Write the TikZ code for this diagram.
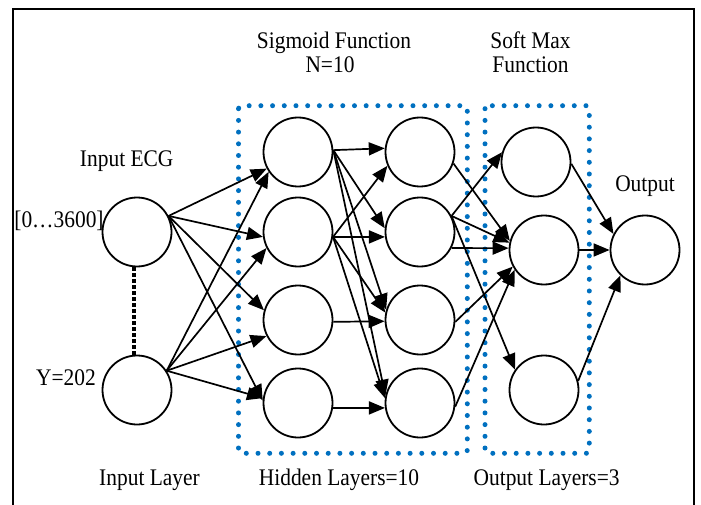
\documentclass[tikz,border=0pt]{standalone}
\usepackage{fontspec}
\setmainfont{Liberation Serif}[FakeStretch=0.9]
\usetikzlibrary{arrows.meta}
\definecolor{dotblue}{RGB}{0,112,192}

\begin{document}
\begin{tikzpicture}[x=1pt,y=-1pt,
  neuron/.style={draw,circle,line width=1.8pt,minimum size=69pt,inner sep=0pt},
  arr/.style={line width=1.7pt,-{Triangle[length=16pt,width=13pt]}},
  lbl/.style={anchor=base,inner sep=0pt,font=\fontsize{23.8}{26}\selectfont},
  layerbox/.style={dotblue,line width=5pt,line cap=round,dash pattern=on 0pt off 11.7pt,rounded corners=3pt}]
\useasboundingbox (0,0) rectangle (701,505);
\draw[line width=2pt] (12.7,505) -- (12.7,9) -- (694,9) -- (694,505);
\draw[layerbox] (238.5,105.7) rectangle (467.3,453.3);
\draw[layerbox] (485,105.7) rectangle (589.3,453.3);
\node[neuron] (in1) at (137,232) {};
\node[neuron] (in2) at (137,390) {};
\node[neuron] (h11) at (298,152) {};
\node[neuron] (h12) at (298,232) {};
\node[neuron] (h13) at (298,320) {};
\node[neuron] (h14) at (298,403) {};
\node[neuron] (h21) at (420,152) {};
\node[neuron] (h22) at (420,232) {};
\node[neuron] (h23) at (420,320) {};
\node[neuron] (h24) at (420,403) {};
\node[neuron] (s1) at (536,162) {};
\node[neuron] (s2) at (544,250) {};
\node[neuron] (s3) at (544,390) {};
\node[neuron] (out) at (645,250) {};
\draw[line width=3.2pt,dash pattern=on 3.3pt off 2.7pt] (in1.265) -- (in2.95);
\draw[arr] (in1.27) -- (h11.208);
\draw[arr] (in1.27) -- (h12.188);
\draw[arr] (in1.27) -- (h13.164);
\draw[arr] (in1.27) -- (h14.176);
\draw[arr] (in2.33) -- (h11.214);
\draw[arr] (in2.33) -- (h12.207);
\draw[arr] (in2.33) -- (h13.207);
\draw[arr] (in2.33) -- (h14.172);
\draw[arr] (h11.3) -- (h21.174);
\draw[arr] (h11.3) -- (h22.174);
\draw[arr] (h11.3) -- (h23.163);
\draw[arr] (h11.3) -- (h24.168);
\draw[arr] (h12.-8) -- (h21.203);
\draw[arr] (h12.-8) -- (h22.188);
\draw[arr] (h12.-8) -- (h23.168);
\draw[arr] (h12.-8) -- (h24.172);
\draw[arr] (h13.-3) -- (h23.182);
\draw[arr] (h14.-8) -- (h24.188);
\draw[arr] (h21.-19) -- (s2.165);
\draw[arr] (h22.27) -- (s1.164);
\draw[arr] (h22.27) -- (s2.168);
\draw[arr] (h22.27) -- (s3.145);
\draw[arr] (h22.-27) -- (s2.177);
\draw[arr] (h23.-3) -- (s2.208);
\draw[arr] (h24.-6) -- (s2.214);
\draw[arr] (s1.-3) -- (out.153);
\draw[arr] (s2.0) -- (out.180);
\draw[arr] (s3.15) -- (out.226);
\node[lbl] (sig1) at (334,48.3) {Sigmoid Function};
\node[lbl] (sig2) at (330,72.7) {N=10};
\node[lbl] (soft1) at (530.5,48.3) {Soft Max};
\node[lbl] (soft2) at (530.5,72.7) {Function};
\node[lbl] (ecg) at (126.7,166.7) {Input ECG};
\node[lbl] (range) at (59,227) {[0…3600]};
\node[lbl] (yval) at (66,385) {Y=202};
\node[lbl] (outlbl) at (645,191.7) {Output};
\node[lbl] (inlayer) at (149.5,485) {Input Layer};
\node[lbl] (hidlayer) at (339,485) {Hidden Layers=10};
\node[lbl] (outlayer) at (546.6,485) {Output Layers=3};
\end{tikzpicture}
\end{document}
